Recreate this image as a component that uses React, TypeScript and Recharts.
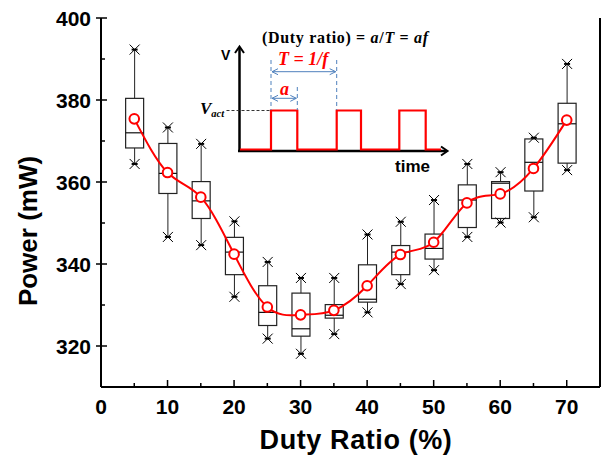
import React from 'react';
import { ComposedChart, Bar, Line, XAxis, YAxis } from 'recharts';

const duty = [5, 10, 15, 20, 25, 30, 35, 40, 45, 50, 55, 60, 65, 70];
const minVals = [364.4, 346.6, 344.6, 332.0, 321.8, 318.1, 322.9, 328.2, 335.1, 338.5, 346.6, 350.1, 351.4, 362.9];
const q1Vals = [368.3, 357.2, 351.1, 337.4, 325.0, 322.4, 326.8, 330.7, 337.4, 341.2, 348.9, 351.1, 357.8, 364.6];
const medianVals = [372.0, 362.1, 355.4, 342.9, 328.2, 324.2, 327.5, 331.4, 342.9, 343.8, 355.6, 359.7, 364.8, 374.2];
const q3Vals = [380.4, 369.4, 360.1, 346.5, 334.7, 332.9, 330.1, 339.8, 344.5, 347.3, 359.3, 360.1, 370.5, 379.2];
const maxVals = [392.3, 373.3, 369.3, 350.4, 340.5, 336.6, 336.6, 347.2, 350.3, 355.6, 364.4, 362.4, 370.8, 388.8];
const meanVals = [375.4, 362.3, 356.3, 342.4, 329.5, 327.6, 328.7, 334.7, 342.3, 345.3, 354.9, 357.1, 363.3, 375.1];

const xTicks = [0, 5, 10, 15, 20, 25, 30, 35, 40, 45, 50, 55, 60, 65, 70, 75];
const yTicks = [310, 320, 330, 340, 350, 360, 370, 380, 390, 400];

const data = duty.map((d, i) => ({
  duty: d,
  range: [minVals[i], maxVals[i]],
  min: minVals[i],
  q1: q1Vals[i],
  median: medianVals[i],
  q3: q3Vals[i],
  max: maxVals[i],
  mean: meanVals[i],
}));

const SANS = 'Liberation Sans, Arial, sans-serif';
const SERIF = 'Liberation Serif, Times New Roman, serif';

const Star = ({ cx, cy }: { cx: number; cy: number }) => (
  <g stroke="#000" strokeWidth={1}>
    <line x1={cx - 5} y1={cy - 5} x2={cx + 5} y2={cy + 5} />
    <line x1={cx - 5} y1={cy + 5} x2={cx + 5} y2={cy - 5} />
    <line x1={cx - 3} y1={cy} x2={cx + 3} y2={cy} strokeWidth={2} />
  </g>
);

const BoxShape = (props: any) => {
  const { x, y, width, height, payload } = props;
  if (payload == null || height == null) return null;
  const { min, q1, median, q3, max } = payload;
  const k = height / (max - min);
  const toPx = (v: number) => y + (max - v) * k;
  const cx = x + width / 2;
  return (
    <g>
      <line x1={cx} x2={cx} y1={toPx(max)} y2={toPx(q3)} stroke="#222" strokeWidth={1} />
      <line x1={cx} x2={cx} y1={toPx(q1)} y2={toPx(min)} stroke="#222" strokeWidth={1} />
      <rect x={x} y={toPx(q3)} width={width} height={toPx(q1) - toPx(q3)} fill="none" stroke="#222" strokeWidth={1.2} />
      <line x1={x} x2={x + width} y1={toPx(median)} y2={toPx(median)} stroke="#111" strokeWidth={1.2} />
      <Star cx={cx} cy={toPx(max)} />
      <Star cx={cx} cy={toPx(min)} />
    </g>
  );
};

const BottomTick = (props: any) => {
  const { x, y, payload } = props;
  const v = payload.value;
  const major = v % 10 === 0;
  return (
    <g>
      <line x1={x} x2={x} y1={y} y2={y - (major ? 7 : 4)} stroke="#000" strokeWidth={1.5} />
      {major && v <= 70 && (
        <text x={x} y={y + 27} textAnchor="middle" fontSize={21} fontWeight="bold" fontFamily={SANS} fill="#000">
          {v}
        </text>
      )}
    </g>
  );
};

const TopTick = (props: any) => {
  const { x, y, payload } = props;
  const v = payload.value;
  if (v === 0 || v === 75) return null;
  return <line x1={x} x2={x} y1={y} y2={y + 6} stroke="#000" strokeWidth={1.5} />;
};

const LeftTick = (props: any) => {
  const { x, y, payload } = props;
  const v = payload.value;
  const major = v % 20 === 0;
  return (
    <g>
      {major ? (
        <line x1={x - 5} x2={x + 6} y1={y} y2={y} stroke="#000" strokeWidth={1.5} />
      ) : (
        <line x1={x} x2={x + 4} y1={y} y2={y} stroke="#000" strokeWidth={1.5} />
      )}
      {major && (
        <text x={x - 10} y={y + 7.5} textAnchor="end" fontSize={21} fontWeight="bold" fontFamily={SANS} fill="#000">
          {v}
        </text>
      )}
    </g>
  );
};

const RightTick = (props: any) => {
  const { x, y, payload } = props;
  const v = payload.value;
  if (v === 310 || v === 400) return null;
  const major = v % 20 === 0;
  return <line x1={x} x2={x - (major ? 6 : 4)} y1={y} y2={y} stroke="#000" strokeWidth={1.5} />;
};

const MeanDot = (props: any) => {
  const { cx, cy } = props;
  if (cx == null || cy == null) return null;
  return <circle cx={cx} cy={cy} r={4.8} fill="#fff" stroke="#ff0000" strokeWidth={2} />;
};

const BLUE = '#4f81bd';

const Inset = () => (
  <svg width={602} height={456} style={{ position: 'absolute', left: 0, top: 0, pointerEvents: 'none' }}>
    <defs>
      <marker id="bl" markerWidth="8" markerHeight="8" refX="1" refY="4" orient="auto" markerUnits="userSpaceOnUse">
        <path d="M7,1 L1,4 L7,7" fill="none" stroke={BLUE} strokeWidth={1} />
      </marker>
      <marker id="br" markerWidth="8" markerHeight="8" refX="7" refY="4" orient="auto" markerUnits="userSpaceOnUse">
        <path d="M1,1 L7,4 L1,7" fill="none" stroke={BLUE} strokeWidth={1} />
      </marker>
    </defs>
    <text x={262} y={43} fontFamily={SERIF} fontWeight="bold" fontSize={16} fill="#000" textLength={166}>
      (Duty ratio) = <tspan fontStyle="italic">a</tspan>/<tspan fontStyle="italic">T</tspan> = <tspan fontStyle="italic">af</tspan>
    </text>
    <text x={221} y={60} fontFamily={SANS} fontWeight="bold" fontSize={14} fill="#000">V</text>
    {/* axes */}
    <line x1={239.5} y1={48} x2={239.5} y2={152} stroke="#000" strokeWidth={2.5} />
    <path d="M235,53 L239.5,46.5 L244,53" fill="none" stroke="#000" strokeWidth={2} />
    <line x1={238} y1={151} x2={446} y2={151} stroke="#000" strokeWidth={2.5} />
    <path d="M441,146.5 L447.5,151 L441,155.5" fill="none" stroke="#000" strokeWidth={2} />
    {/* pulses */}
    <polyline
      points="240,149.5 271,149.5 271,110.5 297.3,110.5 297.3,149.5 336.7,149.5 336.7,110.5 361,110.5 361,149.5 399.3,149.5 399.3,110.5 425.7,110.5 425.7,149.5 441,149.5"
      fill="none"
      stroke="#ff0000"
      strokeWidth={2.2}
    />
    {/* Vact */}
    <line x1={226.5} y1={110.5} x2={270} y2={110.5} stroke="#333" strokeWidth={1} strokeDasharray="3,2" />
    <text x={200} y={114} fontFamily={SERIF} fontWeight="bold" fontStyle="italic" fontSize={17} fill="#000">
      V<tspan fontSize={10.5} dy={3}>act</tspan>
    </text>
    {/* blue dashed guides */}
    <line x1={271} y1={60} x2={271} y2={110} stroke={BLUE} strokeWidth={1} strokeDasharray="4,3" />
    <line x1={297.3} y1={87} x2={297.3} y2={110} stroke={BLUE} strokeWidth={1} strokeDasharray="4,3" />
    <line x1={336.7} y1={60} x2={336.7} y2={110} stroke={BLUE} strokeWidth={1} strokeDasharray="4,3" />
    <line x1={272} y1={71.7} x2={335.7} y2={71.7} stroke={BLUE} strokeWidth={1} markerStart="url(#bl)" markerEnd="url(#br)" />
    <line x1={272} y1={98.3} x2={296.3} y2={98.3} stroke={BLUE} strokeWidth={1} markerStart="url(#bl)" markerEnd="url(#br)" />
    <text x={278} y={65} fontFamily={SERIF} fontWeight="bold" fontStyle="italic" fontSize={18} fill="#ff0000">T = 1/f</text>
    <text x={280} y={95} fontFamily={SERIF} fontWeight="bold" fontStyle="italic" fontSize={18} fill="#ff0000">a</text>
    <text x={395} y={171.5} fontFamily={SANS} fontWeight="bold" fontSize={17} fill="#000">time</text>
  </svg>
);

export default function App() {
  return (
    <div style={{ position: 'absolute', left: 0, top: 0, width: 602, height: 456, background: '#fff' }}>
      <ComposedChart
        width={602}
        height={456}
        data={data}
        margin={{ top: 18, right: 0, bottom: 0, left: 0 }}
      >
        <XAxis
          dataKey="duty"
          type="number"
          domain={[0, 75]}
          ticks={xTicks}
          interval={0}
          height={69}
          tickSize={0}
          tickMargin={0}
          tickLine={false}
          axisLine={{ stroke: '#000', strokeWidth: 2 }}
          tick={<BottomTick />}
          allowDataOverflow
        />
        <XAxis
          xAxisId="top"
          orientation="top"
          type="number"
          domain={[0, 75]}
          ticks={xTicks}
          interval={0}
          height={0}
          tickSize={0}
          tickMargin={0}
          tickLine={false}
          axisLine={{ stroke: '#000', strokeWidth: 2 }}
          tick={<TopTick />}
        />
        <YAxis
          type="number"
          domain={[310, 400]}
          ticks={yTicks}
          interval={0}
          width={101}
          tickSize={0}
          tickMargin={0}
          tickLine={false}
          axisLine={{ stroke: '#000', strokeWidth: 2 }}
          tick={<LeftTick />}
          allowDataOverflow
        />
        <YAxis
          yAxisId="right"
          orientation="right"
          type="number"
          domain={[310, 400]}
          ticks={yTicks}
          interval={0}
          width={2}
          tickSize={0}
          tickMargin={0}
          tickLine={false}
          axisLine={{ stroke: '#000', strokeWidth: 2 }}
          tick={<RightTick />}
        />
        <Bar dataKey="range" barSize={18} shape={<BoxShape />} isAnimationActive={false} />
        <Line
          dataKey="mean"
          type="natural"
          stroke="#ff0000"
          strokeWidth={2}
          dot={<MeanDot />}
          activeDot={false}
          isAnimationActive={false}
        />
      </ComposedChart>
      <svg width={602} height={456} style={{ position: 'absolute', left: 0, top: 0, pointerEvents: 'none' }}>
        <text
          x={37}
          y={231}
          transform="rotate(-90, 37, 231)"
          textAnchor="middle"
          fontSize={26}
          fontWeight="bold"
          fontFamily={SANS}
          fill="#000"
        >
          Power (mW)
        </text>
        <text x={356} y={449} textAnchor="middle" fontSize={27} fontWeight="bold" fontFamily={SANS} fill="#000" letterSpacing={0.6}>
          Duty Ratio (%)
        </text>
      </svg>
      <Inset />
    </div>
  );
}
